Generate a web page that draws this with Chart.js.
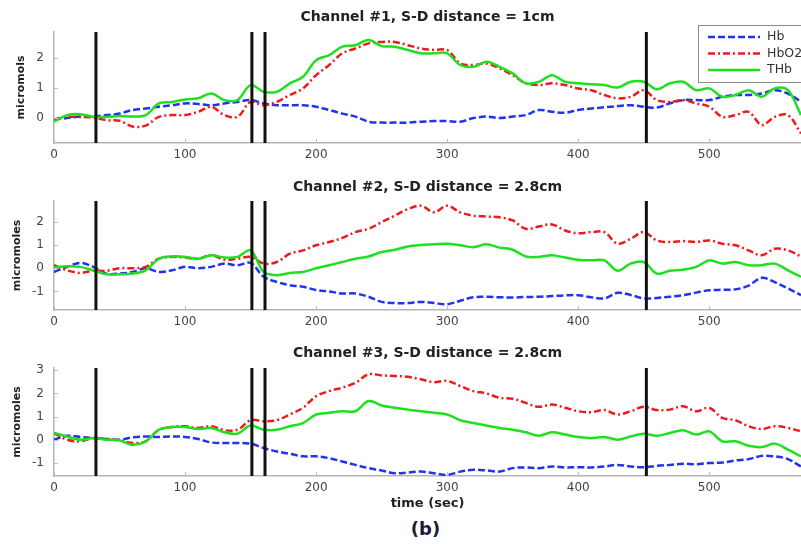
<!DOCTYPE html>
<html>
<head>
<meta charset="utf-8">
<script src="https://cdn.jsdelivr.net/npm/chart.js@4.4.0/dist/chart.umd.min.js"></script>
<style>
body { margin: 0; background: #fff; }
#wrap { position: relative; width: 801px; height: 544px; overflow: hidden; background: #fff; }
canvas { position: absolute; left: 0; }
#tag { position: absolute; left: 0; width: 851px; top: 518px; text-align: center;
  font: bold 18px "DejaVu Sans", sans-serif; color: #1a1a3a; }
</style>
</head>
<body>
<div id="wrap">
  <canvas id="c1" width="801" height="165" style="top:0px"></canvas>
  <canvas id="c2" width="801" height="162" style="top:170px"></canvas>
  <canvas id="c3" width="801" height="179" style="top:335px"></canvas>
  <div id="tag">(b)</div>
</div>
<script>
// time axis (sec)
const time = [0,10,20,30,40,50,60,70,80,90,
  100,110,120,130,140,150,160,170,180,190,
  200,210,220,230,240,250,260,270,280,290,
  300,310,320,330,340,350,360,370,380,390,
  400,410,420,430,440,450,460,470,480,490,
  500,510,520,530,540,550,560,570];

// stimulus markers
const eventTimes = [32, 151, 161, 452];

// channel 1, S-D 1cm
const ch1Hb = [-0.05,0,0.05,0.05,0.1,0.15,0.27,0.32,0.38,0.43,
  0.49,0.47,0.43,0.49,0.54,0.6,0.49,0.43,0.43,0.43,
  0.38,0.27,0.15,0.05,-0.12,-0.15,-0.15,-0.15,-0.12,-0.1,
  -0.1,-0.12,0,0.05,0,0.05,0.1,0.27,0.21,0.18,
  0.27,0.32,0.36,0.4,0.43,0.38,0.35,0.49,0.6,0.6,
  0.6,0.71,0.77,0.77,0.82,0.93,0.82,0.54];
const ch1HbO2 = [-0.04,0.04,0.04,0.02,-0.07,-0.09,-0.28,-0.25,0.04,0.1,
  0.1,0.21,0.38,0.1,0.04,0.54,0.43,0.54,0.77,0.99,
  1.43,1.77,2.16,2.32,2.49,2.54,2.54,2.43,2.32,2.27,
  2.27,1.82,1.77,1.82,1.66,1.43,1.16,1.1,1.16,1.1,
  0.99,0.93,0.77,0.66,0.71,0.93,0.6,0.54,0.6,0.49,
  0.38,0.04,0.1,0.21,-0.23,0.04,0.1,-0.51];
const ch1THb = [-0.12,0.1,0.13,0.04,0.04,0.07,0.05,0.1,0.49,0.54,
  0.62,0.66,0.82,0.6,0.6,1.1,0.88,0.88,1.16,1.38,
  1.93,2.1,2.38,2.43,2.6,2.4,2.38,2.27,2.16,2.16,
  2.16,1.77,1.71,1.88,1.71,1.49,1.16,1.21,1.43,1.21,
  1.16,1.13,1.1,1.02,1.21,1.21,0.96,1.16,1.21,0.93,
  0.99,0.71,0.77,0.93,0.71,0.99,0.93,0.1];

// channel 2, S-D 2.8cm
const ch2Hb = [-0.16,0.06,0.23,0.06,-0.23,-0.23,-0.16,0,-0.16,-0.09,
  0.06,0,0.06,0.2,0.13,0.23,-0.37,-0.59,-0.73,-0.8,
  -0.94,-1.0,-1.09,-1.09,-1.23,-1.45,-1.5,-1.5,-1.45,-1.5,
  -1.55,-1.4,-1.25,-1.23,-1.25,-1.26,-1.24,-1.23,-1.2,-1.17,
  -1.16,-1.25,-1.3,-1.06,-1.15,-1.3,-1.28,-1.23,-1.16,-1.05,
  -0.95,-0.93,-0.91,-0.75,-0.41,-0.6,-0.87,-1.16];
const ch2HbO2 = [0.13,-0.09,-0.2,-0.11,-0.11,0,0,0.06,0.41,0.49,
  0.46,0.41,0.56,0.37,0.41,0.49,0.2,0.27,0.63,0.77,
  0.99,1.13,1.31,1.56,1.7,1.99,2.27,2.55,2.7,2.41,
  2.7,2.41,2.27,2.23,2.2,2.06,1.7,1.8,1.89,1.63,
  1.51,1.56,1.56,1.06,1.27,1.56,1.2,1.13,1.17,1.13,
  1.2,1.06,0.99,0.77,0.56,0.84,0.77,0.51];
const ch2THb = [0.03,0.09,0.06,-0.09,-0.26,-0.26,-0.23,-0.09,0.41,0.51,
  0.49,0.41,0.56,0.46,0.49,0.77,-0.16,-0.3,-0.2,-0.16,
  0,0.13,0.27,0.41,0.51,0.7,0.8,0.94,1.0,1.03,
  1.06,0.99,0.91,1.03,0.89,0.8,0.51,0.49,0.56,0.46,
  0.37,0.34,0.34,-0.11,0.2,0.27,-0.23,-0.11,-0.06,0.06,
  0.34,0.2,0.27,0.13,0.13,0.2,-0.09,-0.37];

// channel 3, S-D 2.8cm
const ch3Hb = [0,0.17,0.12,0.07,0.03,0,0.1,0.14,0.12,0.14,
  0.12,0.03,-0.12,-0.14,-0.14,-0.17,-0.36,-0.51,-0.61,-0.72,
  -0.72,-0.8,-0.94,-1.09,-1.23,-1.33,-1.45,-1.42,-1.38,-1.45,
  -1.52,-1.38,-1.3,-1.33,-1.38,-1.23,-1.2,-1.23,-1.16,-1.2,
  -1.19,-1.2,-1.16,-1.09,-1.16,-1.19,-1.13,-1.09,-1.04,-1.06,
  -1.01,-0.99,-0.9,-0.84,-0.7,-0.72,-0.84,-1.16];
const ch3HbO2 = [0.29,0.0,-0.07,0.07,0.03,-0.03,-0.14,-0.07,0.43,0.55,
  0.58,0.51,0.58,0.41,0.43,0.84,0.8,0.84,1.09,1.38,
  1.88,2.1,2.25,2.46,2.83,2.78,2.75,2.72,2.61,2.49,
  2.54,2.32,2.1,2.0,1.81,1.77,1.59,1.42,1.52,1.38,
  1.23,1.19,1.28,1.09,1.23,1.42,1.28,1.3,1.45,1.23,
  1.38,0.94,0.84,0.58,0.46,0.58,0.51,0.36];
const ch3THb = [0.29,0.14,0,0.07,0,-0.03,-0.22,-0.07,0.43,0.55,
  0.55,0.46,0.51,0.32,0.26,0.61,0.43,0.43,0.58,0.72,
  1.09,1.16,1.23,1.23,1.67,1.48,1.38,1.3,1.23,1.16,
  1.09,0.84,0.72,0.61,0.51,0.43,0.32,0.17,0.32,0.22,
  0.12,0.07,0.12,0,0.14,0.26,0.17,0.29,0.41,0.22,
  0.36,-0.07,-0.07,-0.26,-0.32,-0.17,-0.43,-0.72];

const titles = ['Channel #1, S-D distance = 1cm', 'Channel #2, S-D distance = 2.8cm', 'Channel #3, S-D distance = 2.8cm'];
const yTitles = ['micromols', 'micromoles', 'micromoles'];
const seriesNames = ['Hb', 'HbO2', 'THb'];
const yMin = [-0.83, -1.8, -1.57];
const yMax = [2.87, 2.9, 3.1];
const xMax = 570;

const FONT = '"DejaVu Sans", sans-serif';

// event bars + little inward ticks like matlab
const markers = {
  id: 'markers',
  afterDatasetsDraw(chart) {
    const ctx = chart.ctx, a = chart.chartArea, x = chart.scales.x, y = chart.scales.y;
    ctx.save();
    ctx.strokeStyle = '#bdbdbd';
    ctx.lineWidth = 1;
    x.ticks.forEach(function (tk) {
      let px = Math.round(x.getPixelForValue(tk.value)) + 0.5;
      ctx.beginPath(); ctx.moveTo(px, a.bottom); ctx.lineTo(px, a.bottom - 4); ctx.stroke();
    });
    y.ticks.forEach(function (tk) {
      let py = Math.round(y.getPixelForValue(tk.value)) + 0.5;
      ctx.beginPath(); ctx.moveTo(a.left, py); ctx.lineTo(a.left + 4, py); ctx.stroke();
    });
    ctx.strokeStyle = '#111';
    ctx.lineWidth = 3;
    eventTimes.forEach(function (t) {
      let px = x.getPixelForValue(t);
      ctx.beginPath(); ctx.moveTo(px, a.top); ctx.lineTo(px, a.bottom); ctx.stroke();
    });
    ctx.restore();
  }
};

// boxed legend, only on the first panel
const boxLegend = {
  id: 'boxLegend',
  afterDraw(chart) {
    const ctx = chart.ctx;
    ctx.save();
    ctx.fillStyle = '#fff';
    ctx.fillRect(698, 25, 130, 57);
    ctx.strokeStyle = '#8a8a8a';
    ctx.lineWidth = 1;
    ctx.strokeRect(698.5, 25.5, 130, 57);
    chart.data.datasets.forEach(function (ds, i) {
      let yy = 37 + i * 16.5;
      ctx.strokeStyle = ds.borderColor;
      ctx.lineWidth = ds.borderWidth;
      ctx.setLineDash(ds.borderDash || []);
      ctx.beginPath(); ctx.moveTo(708, yy); ctx.lineTo(760, yy); ctx.stroke();
      ctx.setLineDash([]);
      ctx.fillStyle = '#333';
      ctx.font = '12.5px ' + FONT;
      ctx.textBaseline = 'middle';
      ctx.fillText(ds.label, 767, yy);
    });
    ctx.restore();
  }
};

function pts(arr) {
  return time.map(function (t, i) { return {x: t, y: arr[i]}; });
}

function makePanel(id, n, hb, hbo, thb, o) {
  const common = {pointRadius: 0, borderWidth: 2.5, tension: 0.35, fill: false};
  const plugins = [markers];
  if (n === 0) plugins.push(boxLegend);
  return new Chart(document.getElementById(id), {
    type: 'line',
    data: {
      datasets: [
        Object.assign({label: seriesNames[0], data: pts(hb), borderColor: '#2233ee', borderDash: [7, 3], order: 2}, common),
        Object.assign({label: seriesNames[1], data: pts(hbo), borderColor: '#ee1a1a', borderDash: [7, 3, 2, 3], order: 1}, common),
        Object.assign({label: seriesNames[2], data: pts(thb), borderColor: '#1ee01e', order: 0}, common)
      ]
    },
    options: {
      responsive: false,
      animation: false,
      layout: {padding: 0},
      plugins: {
        legend: {display: false},
        tooltip: {enabled: false},
        title: {
          display: true, text: titles[n], fullSize: false,
          color: '#222', font: {family: FONT, size: 14, weight: 'bold'},
          padding: {top: o.tTop, bottom: o.tBottom}
        }
      },
      scales: {
        x: {
          type: 'linear', min: 0, max: xMax,
          grid: {display: false, drawTicks: false},
          border: {display: true, color: '#b5b5b5', width: 1.5},
          ticks: {stepSize: 100, includeBounds: false, padding: 5, color: '#444', font: {family: FONT, size: 12}},
          title: {display: n === 2, text: 'time (sec)', color: '#222', font: {family: FONT, size: 13, weight: 'bold'}, padding: {top: 0, bottom: 2.2}},
          afterFit: function (s) { s.height = o.xH; }
        },
        y: {
          min: yMin[n], max: yMax[n],
          grid: {display: false, drawTicks: false},
          border: {display: true, color: '#b5b5b5', width: 1.5},
          ticks: {stepSize: 1, includeBounds: false, padding: 10, color: '#444', font: {family: FONT, size: 12}},
          title: {display: true, text: yTitles[n], color: '#222', font: {family: FONT, size: 11, weight: 'bold'}, padding: {top: o.yPad, bottom: 0}},
          afterFit: function (s) { s.width = 54; }
        }
      }
    },
    plugins: plugins
  });
}

makePanel('c1', 0, ch1Hb, ch1HbO2, ch1THb, {tTop: 8.6, tBottom: 6.6, xH: 22, yPad: 14.4});
makePanel('c2', 1, ch2Hb, ch2HbO2, ch2THb, {tTop: 8.6, tBottom: 5.6, xH: 22, yPad: 10.4});
makePanel('c3', 2, ch3Hb, ch3HbO2, ch3THb, {tTop: 9.6, tBottom: 6.6, xH: 38, yPad: 10.4});
</script>
</body>
</html>
